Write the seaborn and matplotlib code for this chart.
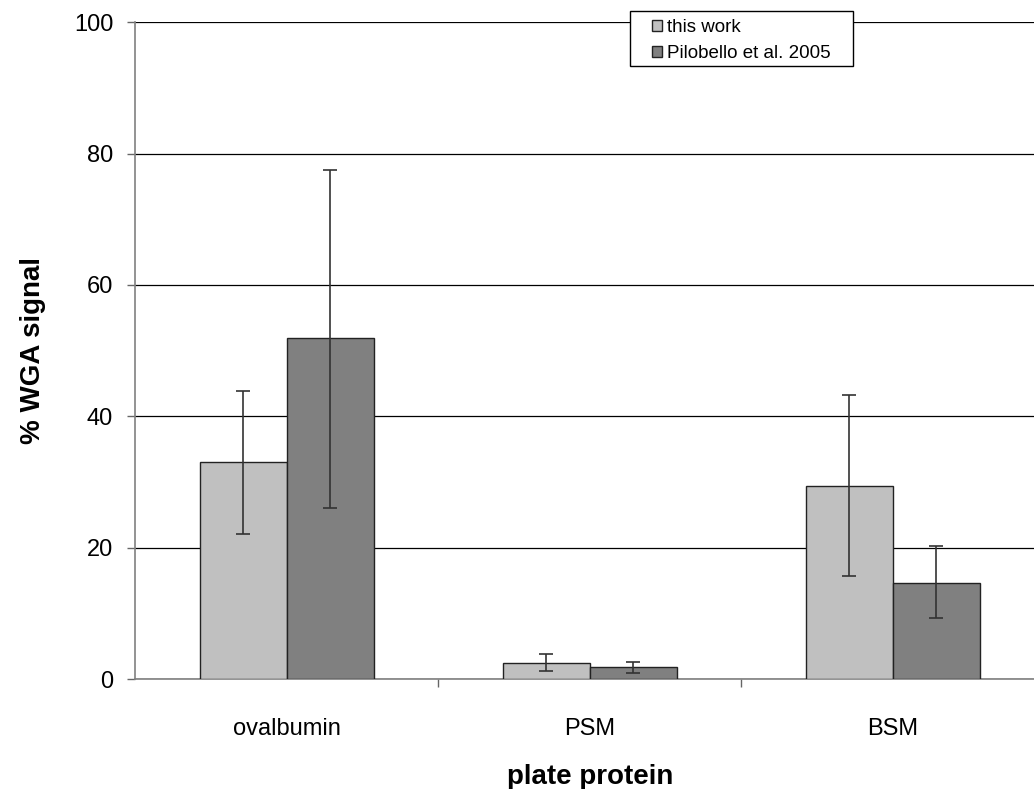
import matplotlib

matplotlib.use("Agg")
import matplotlib.pyplot as plt
import numpy as np
import pandas as pd
import seaborn as sns
from matplotlib.patches import Rectangle
from matplotlib.ticker import FixedLocator
from matplotlib.transforms import IdentityTransform

# ---------- data ----------
categories = ["ovalbumin", "PSM", "BSM"]
series = ["this work", "Pilobello et al. 2005"]
this_work = [33.1, 2.5, 29.4]
this_work_lo = [22.1, 1.3, 15.7]
this_work_hi = [43.8, 3.8, 43.2]
pilobello = [51.9, 1.8, 14.7]
pilobello_lo = [26.1, 0.9, 9.4]
pilobello_hi = [77.5, 2.7, 20.3]
yticks = [0, 20, 40, 60, 80, 100]

colors = ["#c0c0c0", "#808080"]

df = pd.DataFrame({
    "plate protein": categories * 2,
    "signal": this_work + pilobello,
    "source": [series[0]] * 3 + [series[1]] * 3,
})

sns.set_style("white")
plt.rcParams["font.family"] = ["Liberation Sans", "DejaVu Sans"]
plt.rcParams["text.color"] = "black"
plt.rcParams["axes.labelcolor"] = "black"
plt.rcParams["xtick.color"] = "black"
plt.rcParams["ytick.color"] = "black"

fig = plt.figure(figsize=(10.34, 7.89), dpi=100)
ax = fig.add_axes([0.131, 0.139, 0.879, 0.833])

sns.barplot(
    data=df, x="plate protein", y="signal", hue="source",
    hue_order=series, order=categories, palette=colors,
    width=0.575, edgecolor="#222222", linewidth=1.0,
    errorbar=None, ax=ax, zorder=3,
)

# asymmetric error bars, placed at the bar centres seaborn produced
lows = [this_work_lo, pilobello_lo]
highs = [this_work_hi, pilobello_hi]
means = [this_work, pilobello]
for cont, m, lo, hi in zip(ax.containers, means, lows, highs):
    xs = [b.get_x() + b.get_width() / 2 for b in cont]
    m = np.array(m)
    err = [m - np.array(lo), np.array(hi) - m]
    ax.errorbar(xs, m, yerr=err, fmt="none", ecolor="#333333",
                elinewidth=1.2, capsize=5, capthick=1.2, zorder=4)

ax.set_xlim(-0.5, 2.5)
ax.set_ylim(0, 100)
ax.set_yticks(yticks)
ax.yaxis.grid(True, color="black", linewidth=0.9, zorder=0)
ax.set_axisbelow(True)

# category boundary ticks on the x axis, labels centred
ax.xaxis.set_minor_locator(FixedLocator([0.5, 1.5]))
ax.tick_params(axis="x", which="major", length=0, labelsize=17, pad=28,
               labelcolor="black")
ax.tick_params(axis="x", which="minor", length=6, width=1, color="#666666",
               direction="out", bottom=True)
ax.tick_params(axis="y", which="major", length=6, width=1, color="#666666",
               direction="out", left=True, labelsize=17, pad=10,
               labelcolor="black")

for side in ["top", "right"]:
    ax.spines[side].set_visible(False)
for side in ["left", "bottom"]:
    ax.spines[side].set_color("#808080")
    ax.spines[side].set_linewidth(1.2)

ax.set_xlabel("plate protein", fontsize=20, fontweight="bold", labelpad=17)
ax.set_ylabel("% WGA signal", fontsize=20, fontweight="bold", labelpad=20)

handles, labels = ax.get_legend_handles_labels()
leg = ax.legend(
    handles, labels, loc="upper left",
    bbox_to_anchor=(652 / 1034, 1 - 19 / 789), bbox_transform=fig.transFigure,
    fontsize=13.5, frameon=False,
    handlelength=0.55, handleheight=0.55, handletextpad=0.25,
    labelspacing=0.5, borderpad=0, borderaxespad=0,
)
for h in leg.legend_handles:
    h.set_edgecolor("#222222")
    h.set_linewidth(1.0)
leg.set_zorder(7)

# white box with extra horizontal padding, like the original legend frame
fig.canvas.draw()
bb = leg.get_window_extent()
pad_x, pad_top, pad_bottom = 22, 8, 4
box = Rectangle(
    (bb.x0 - pad_x, bb.y0 - pad_bottom),
    bb.width + 2 * pad_x, bb.height + pad_top + pad_bottom,
    transform=IdentityTransform(), facecolor="white", edgecolor="black",
    linewidth=1.0, zorder=6, clip_on=False,
)
ax.add_artist(box)

fig.savefig("out.png", dpi=100)
